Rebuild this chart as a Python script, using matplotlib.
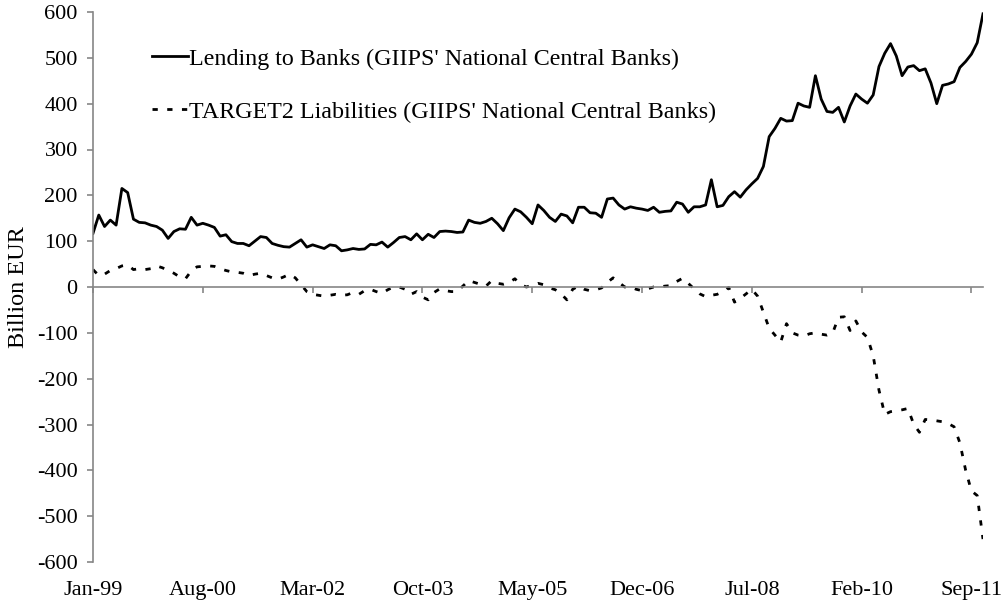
import matplotlib
matplotlib.use('Agg')
import matplotlib.pyplot as plt
import numpy as np

plt.rcParams['font.family'] = ['Liberation Serif', 'DejaVu Serif']
plt.rcParams['font.size'] = 16
plt.rcParams['axes.unicode_minus'] = False

# Monthly, Jan-99 .. Nov-11 (billion EUR)
lending = [117, 157, 132, 146, 135, 215, 206, 148, 141, 140,
           135, 132, 124, 106, 121, 127, 126, 152, 135, 139,
           135, 130, 111, 114, 99, 95, 95, 90, 100, 110,
           108, 95, 91, 88, 87, 95, 103, 87, 92, 88,
           84, 92, 90, 79, 81, 84, 82, 83, 93, 92,
           98, 87, 97, 108, 110, 103, 116, 103, 115, 108,
           121, 122, 121, 119, 120, 146, 141, 139, 143, 150,
           138, 123, 151, 170, 164, 152, 138, 179, 167, 152,
           143, 159, 155, 140, 174, 174, 162, 161, 152, 192,
           194, 179, 170, 175, 172, 170, 167, 174, 163, 165,
           166, 185, 181, 163, 175, 175, 179, 234, 175, 178,
           197, 208, 196, 212, 225, 237, 263, 328, 346, 368,
           362, 363, 401, 395, 392, 461, 410, 383, 381, 392,
           360, 395, 421, 410, 401, 419, 481, 510, 531, 504,
           461, 480, 483, 472, 476, 445, 400, 440, 443, 448,
           479, 492, 508, 533, 596]

target2 = [38, 25, 28, 36, 40, 46, 48, 38, 40, 38,
           40, 46, 42, 36, 30, 22, 18, 35, 44, 45,
           46, 45, 40, 36, 33, 32, 30, 25, 28, 30,
           25, 20, 17, 22, 28, 20, 5, -10, -16, -18,
           -20, -18, -16, -18, -17, -12, -16, -8, -5, -10,
           -14, -6, 0, 0, -5, -16, -10, -22, -28, -12,
           -4, -8, -10, -10, 2, 14, 10, 6, 2, 14,
           8, 6, 10, 18, 5, 0, 4, 8, 5, -2,
           -6, -15, -28, -5, 2, -5, -8, -6, -2, 10,
           20, 10, 0, 0, -5, -8, -4, 0, 0, 2,
           3, 12, 19, 8, -4, -15, -21, -18, -16, -10,
           -1, -33, -25, -15, -5, -20, -55, -90, -105, -120,
           -80, -100, -105, -107, -102, -100, -103, -105, -100, -66,
           -65, -95, -74, -98, -110, -150, -225, -278, -272, -270,
           -268, -265, -299, -317, -289, -290, -292, -294, -298, -305,
           -340, -400, -445, -455, -550]

tick_pos = [0, 19, 38, 57, 76, 95, 114, 133, 152]
tick_labels = ['Jan-99', 'Aug-00', 'Mar-02', 'Oct-03', 'May-05',
               'Dec-06', 'Jul-08', 'Feb-10', 'Sep-11']

axis_gray = '#868686'

fig = plt.figure(figsize=(10.01, 6.08), dpi=100)
ax = fig.add_axes([93 / 1001, 1 - 562 / 608, 890 / 1001, 550 / 608])

x = np.arange(len(lending))
ax.plot(x, lending, color='black', lw=2.0,
        label="Lending to Banks (GIIPS' National Central Banks)")
ax.plot(x, target2, color='black', lw=2.0, linestyle=(0, (1.9, 3.4)),
        label="TARGET2 Liabilities (GIIPS' National Central Banks)")

ax.set_xlim(0, len(lending) - 1)
ax.set_ylim(-600, 600)
ax.set_yticks(np.arange(-600, 601, 100))

for s in ['top', 'right']:
    ax.spines[s].set_visible(False)
ax.spines['left'].set_color(axis_gray)
ax.spines['left'].set_linewidth(1.2)
ax.spines['bottom'].set_position(('data', 0))
ax.spines['bottom'].set_color(axis_gray)
ax.spines['bottom'].set_linewidth(1.2)

ax.set_xticks(tick_pos)
ax.tick_params(axis='x', direction='out', length=4.5, width=1.2,
               color=axis_gray, labelbottom=False)
ax.tick_params(axis='y', direction='out', length=4, width=1.2,
               color=axis_gray, pad=7, labelsize=16)

# date labels sit below the plot, not on the zero line
sec = ax.secondary_xaxis('bottom')
sec.set_xticks(tick_pos, tick_labels)
sec.spines['bottom'].set_visible(False)
sec.tick_params(length=0, pad=14, labelsize=16)

ax.set_ylabel('Billion EUR', fontsize=17.5, labelpad=6)

fig.legend(loc='upper left', bbox_to_anchor=(152 / 1001, 1 - 48 / 608),
           frameon=False, fontsize=17.3, handlelength=1.5, handletextpad=0.05,
           labelspacing=1.3, borderpad=0, borderaxespad=0)

fig.savefig('out.png', dpi=100)
